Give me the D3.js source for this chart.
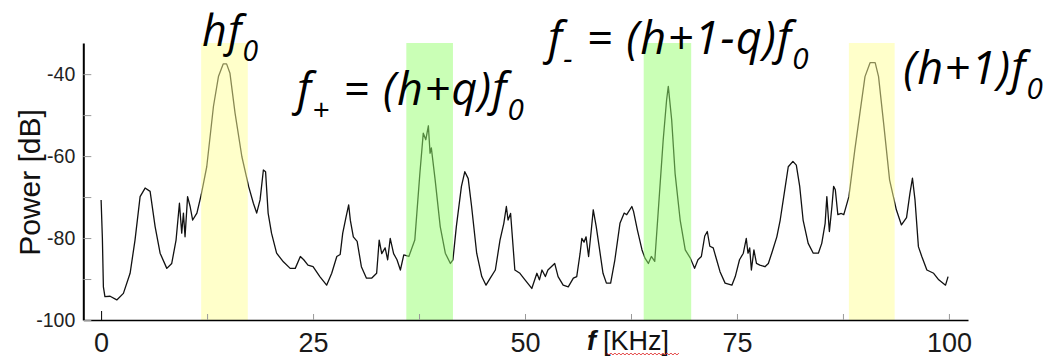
<!DOCTYPE html>
<html>
<head>
<meta charset="utf-8">
<script src="https://cdn.jsdelivr.net/npm/d3@7/dist/d3.min.js"></script>
<style>
  html, body { margin: 0; padding: 0; background: #fff; }
  svg { display: block; }
</style>
</head>
<body>
<svg id="chart" width="1053" height="358"></svg>
<script>
// ---------- data ----------
const freqKHz = [0.0,0.15,0.27,0.45,1.06,1.85,2.63,3.42,4.0,4.6,5.19,5.78,6.37,6.96,7.75,8.33,8.84,9.24,9.51,9.71,9.9,10.2,10.5,10.8,11.3,11.8,12.46,13.25,13.84,14.4,14.8,15.2,15.8,16.6,17.4,17.96,18.35,18.75,19.14,19.4,19.7,20.1,20.7,21.5,22.3,22.9,23.5,23.9,24.4,25.0,25.8,26.6,27.2,27.8,28.2,28.5,28.9,29.2,29.4,29.75,30.2,30.7,31.3,31.9,32.5,32.8,33.1,33.5,33.8,34.1,34.5,34.9,35.3,35.7,36.3,37.0,37.6,38.0,38.3,38.6,38.8,38.95,39.4,40.0,40.6,41.2,41.5,41.9,42.5,42.9,43.3,43.7,44.3,44.9,45.4,45.9,46.5,47.05,47.5,47.8,48.0,48.3,48.8,49.4,50.0,50.8,51.4,51.7,52.0,52.4,52.7,53.1,53.5,53.9,54.5,55.1,55.7,56.1,56.5,56.7,56.96,57.2,57.5,57.8,58.05,58.4,58.8,59.2,59.6,60.1,60.6,61.2,61.7,62.0,62.6,62.8,63.25,63.8,64.15,64.55,64.9,65.3,65.7,66.3,66.7,66.9,67.3,67.7,68.3,68.9,69.5,70.0,70.4,70.8,71.2,71.5,71.8,72.2,72.6,73.0,73.6,74.4,74.8,75.3,75.75,76.1,76.3,76.5,76.7,77.0,77.3,77.7,78.3,78.7,79.1,79.7,80.1,80.7,81.05,81.6,82.0,82.4,82.8,83.4,84.0,84.6,85.0,85.4,85.6,85.9,86.2,86.4,86.6,86.9,87.3,87.6,88.2,88.9,89.5,90.1,90.7,91.3,91.7,92.3,93.0,93.8,94.4,95.0,95.4,95.7,96.0,96.4,96.8,97.4,98.2,98.8,99.6,99.9];
const powerDb = [-70.7,-80.0,-91.9,-94.3,-94.2,-95.1,-93.5,-88.6,-80.5,-69.9,-67.8,-68.6,-77.2,-83.7,-87.4,-86.2,-80.5,-71.5,-78.8,-73.9,-79.7,-69.9,-72.3,-75.6,-73.9,-69.5,-62.6,-47.9,-40.6,-37.5,-37.5,-39.8,-49.5,-60.1,-67.4,-71.5,-73.9,-70.7,-63.4,-63.8,-73.9,-78.8,-83.7,-85.8,-87.4,-87.4,-84.5,-85.3,-86.6,-87.0,-89.4,-91.5,-88.6,-84.5,-84.0,-78.8,-74.8,-71.9,-75.7,-79.7,-80.8,-87.0,-89.8,-89.8,-88.6,-80.5,-83.8,-82.4,-85.3,-80.1,-83.8,-85.3,-87.8,-84.1,-84.5,-80.5,-64.2,-54.4,-56.0,-52.6,-59.3,-58.0,-65.8,-77.2,-83.7,-86.2,-85.3,-77.2,-67.4,-63.8,-65.5,-72.3,-83.7,-89.4,-91.5,-89.8,-87.8,-80.5,-76.4,-72.3,-75.6,-74.0,-87.8,-88.6,-90.2,-92.3,-88.6,-90.2,-87.8,-89.4,-87.8,-87.0,-86.2,-89.4,-91.5,-91.9,-89.8,-89.4,-83.7,-80.1,-81.0,-79.7,-84.5,-78.4,-73.1,-77.2,-82.9,-88.6,-91.0,-91.0,-85.3,-76.4,-73.9,-74.3,-72.3,-73.5,-78.0,-82.9,-84.9,-86.2,-84.5,-85.7,-73.9,-56.0,-46.3,-43.0,-51.2,-64.2,-75.6,-82.9,-84.9,-87.4,-85.3,-84.5,-79.5,-78.4,-82.0,-82.4,-85.3,-88.2,-91.0,-91.5,-89.4,-85.3,-83.7,-80.1,-83.7,-82.4,-87.8,-82.9,-86.2,-86.6,-87.0,-86.2,-83.7,-79.7,-75.6,-67.4,-62.6,-61.3,-62.2,-67.4,-75.6,-81.3,-83.7,-83.7,-81.3,-76.4,-69.9,-78.4,-72.3,-67.4,-68.2,-74.3,-74.0,-74.3,-69.9,-58.5,-49.5,-40.6,-37.2,-37.2,-40.6,-52.0,-65.8,-73.1,-76.8,-75.0,-69.1,-65.4,-70.7,-82.1,-84.5,-87.8,-88.6,-90.2,-91.5,-89.4];

const bandStart = [11.8, 36.0, 64.0, 88.2];
const bandEnd   = [17.3, 41.5, 69.6, 93.6];
const bandKind  = ["harmonic", "sideband", "sideband", "harmonic"];

const xTicks = [0, 12.5, 25, 37.5, 50, 62.5, 75, 87.5, 100];
const xTickLabels = ["0", "", "25", "", "50", "", "75", "", "100"];
const yTicks = [-100, -90, -80, -70, -60, -50, -40];
const yTickLabels = ["-100", "", "-80", "", "-60", "", "-40"];

const yTitle = "Power [dB]";
const xTitleVar = "f";
const xTitleUnit = "[KHz]";

// annotation pieces: [text, isSubscript]
const annHarm1 = [["hf", false], ["0", true]];
const annPlus  = [["f", false], ["+", true], [" = (h+q)f", false], ["0", true]];
const annMinus = [["f", false], ["-", true], [" = (h+1-q)f", false], ["0", true]];
const annHarm2 = [["(h+1)f", false], ["0", true]];

// ---------- drawing ----------
const svg = d3.select("#chart");

const x = d3.scaleLinear().domain([-2.1, 102.25]).range([83.3, 968]);
const y = d3.scaleLinear().domain([-100, -32.4]).range([320, 43]);

const pts = freqKHz.map((f, i) => [f, powerDb[i]]);

// curve
svg.append("path")
  .datum(pts)
  .attr("fill", "none")
  .attr("stroke", "#111")
  .attr("stroke-width", 1.3)
  .attr("stroke-linejoin", "round")
  .attr("d", d3.line().x(d => x(d[0])).y(d => y(d[1])));

// shaded bands (drawn over the curve, translucent)
const bandFill = { harmonic: "rgb(255,255,150)", sideband: "rgb(150,255,110)" };
svg.append("g").selectAll("rect")
  .data(bandStart.map((s, i) => ({ s, e: bandEnd[i], k: bandKind[i] })))
  .join("rect")
  .attr("x", d => x(d.s))
  .attr("width", d => x(d.e) - x(d.s))
  .attr("y", y(-32.4))
  .attr("height", y(-100) - y(-32.4))
  .attr("fill", d => bandFill[d.k])
  .attr("fill-opacity", 0.5);

// axes
const xAxis = d3.axisBottom(x)
  .tickValues(xTicks)
  .tickSize(-6)
  .tickSizeOuter(0)
  .tickPadding(0)
  .tickFormat((d, i) => xTickLabels[i]);

const gx = svg.append("g").attr("transform", `translate(0,${y(-100)})`).call(xAxis);
gx.select(".domain").attr("stroke", "#000").attr("stroke-width", 1.5);
gx.selectAll(".tick line").attr("stroke", (d) => d === 0 ? "#000" : "#999")
  .attr("y2", d => d === 0 ? -9 : -6);
gx.selectAll(".tick text")
  .attr("y", 32).attr("dy", null)
  .attr("font-family", "'Liberation Sans', Arial, sans-serif")
  .attr("font-size", 27)
  .attr("fill", "#1a1a1a");

const yAxis = d3.axisLeft(y)
  .tickValues(yTicks)
  .tickSize(-8)
  .tickSizeOuter(0)
  .tickPadding(8)
  .tickFormat((d, i) => yTickLabels[i]);

const gy = svg.append("g").attr("transform", `translate(${x(-2.1)},0)`).call(yAxis);
gy.select(".domain").attr("stroke", "#000").attr("stroke-width", 2);
gy.selectAll(".tick line").attr("stroke", "#999");
gy.selectAll(".tick text")
  .attr("font-family", "'Liberation Sans', Arial, sans-serif")
  .attr("font-size", 19.5)
  .attr("fill", "#222")
  .attr("dy", "0.35em");

// y title
svg.append("text")
  .attr("transform", `translate(40,${(y(-100) + y(-32.4)) / 2 + 1}) rotate(-90)`)
  .attr("text-anchor", "middle")
  .attr("font-family", "'Liberation Sans', Arial, sans-serif")
  .attr("font-size", 30)
  .attr("fill", "#111")
  .text(yTitle);

// x title with spell-check squiggle
const xt = svg.append("text")
  .attr("x", x(57.3))
  .attr("y", 350)
  .attr("font-family", "'Liberation Sans', Arial, sans-serif")
  .attr("font-size", 27)
  .attr("fill", "#111");
xt.append("tspan").attr("font-weight", "bold").attr("font-style", "italic").text(xTitleVar);
xt.append("tspan").attr("dx", 7).text(xTitleUnit);
const unitStart = x(57.3) + 20, unitEnd = unitStart + 71;
let sq = `M${unitStart},353`;
for (let px = unitStart, k = 0; px < unitEnd; px += 2, k++) sq += ` L${px + 2},${k % 2 ? 353 : 355}`;
svg.append("path").attr("d", sq).attr("fill", "none").attr("stroke", "#e03030").attr("stroke-width", 0.9);

// annotations
function annotate(pieces, px, py, size) {
  const t = svg.append("text")
    .attr("x", px).attr("y", py)
    .attr("font-family", "'Open Sans', 'Noto Sans', sans-serif")
    .attr("font-style", "italic")
    .attr("font-size", size)
    .attr("letter-spacing", 1.2)
    .attr("fill", "#000");
  let down = false;
  pieces.forEach(([s, sub]) => {
    const sp = t.append("tspan").text(s);
    if (sub && !down) { sp.attr("dy", size * 0.34).attr("font-size", size * 0.66); down = true; }
    else if (!sub && down) { sp.attr("dy", -size * 0.34); down = false; }
  });
}
annotate(annHarm1, x(11.9), 46, 43);
annotate(annPlus, x(23.1), 105, 45);
annotate(annMinus, x(52.7), 54, 45);
annotate(annHarm2, x(94.6), 84, 45);
</script>
</body>
</html>
